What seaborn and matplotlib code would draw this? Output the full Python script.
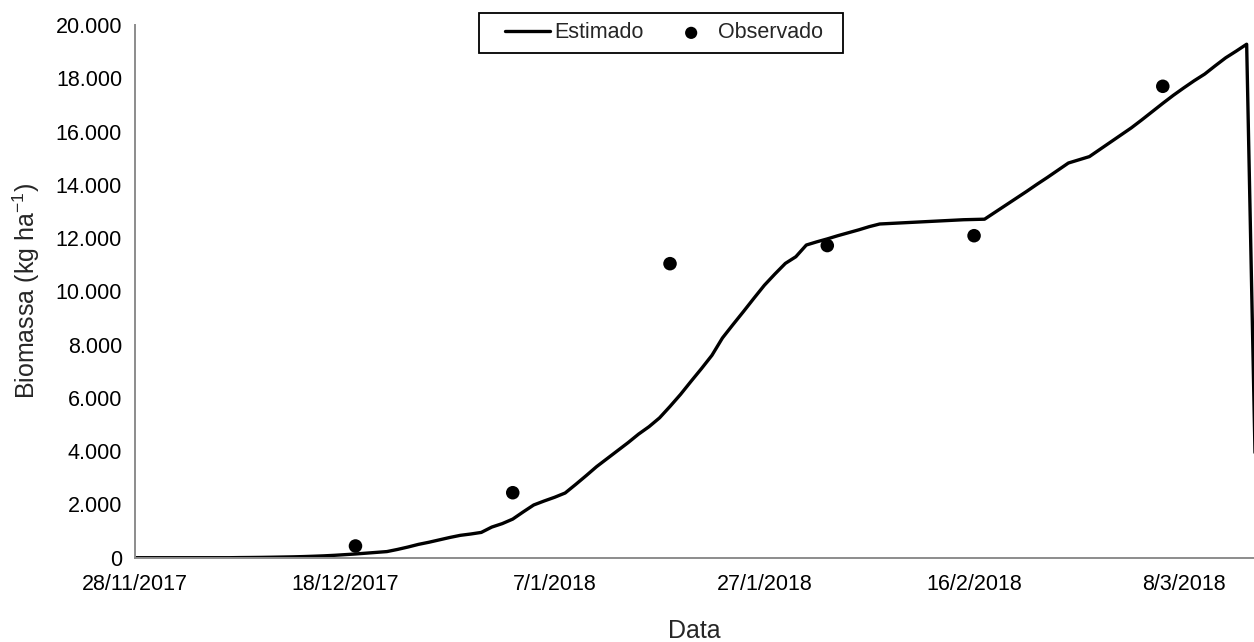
import numpy as np
import pandas as pd
import matplotlib
matplotlib.use("Agg")
import matplotlib.pyplot as plt
import matplotlib.ticker as mticker
import matplotlib.dates as mdates
from matplotlib.patches import Rectangle
import seaborn as sns

# Simulated biomass (daily model output, kg/ha) from 28/11/2017
start_date = "2017-11-28"
estimado = [
    0, 0, 0, 0, 0, 0, 0, 0, 0, 0,
    5, 8, 12, 18, 25, 32, 42, 55, 70, 90,
    115, 140, 170, 200, 230, 310, 400, 500, 580, 670,
    760, 840, 890, 950, 1150, 1280, 1450, 1720, 1980, 2130,
    2270, 2430, 2750, 3080, 3420, 3720, 4020, 4320, 4640, 4920,
    5250, 5680, 6130, 6620, 7100, 7600, 8250, 8750, 9240, 9740,
    10230, 10650, 11050, 11300, 11740, 11860, 11970, 12090, 12200, 12310,
    12430, 12530, 12550, 12570, 12590, 12610, 12630, 12650, 12670, 12690,
    12700, 12710, 12970, 13230, 13490, 13750, 14020, 14280, 14550, 14820,
    14940, 15060, 15330, 15600, 15870, 16140, 16440, 16750, 17060, 17360,
    17640, 17910, 18160, 18470, 18770, 19020, 19280, 0,
]

# Field samplings
obs_dates = ["2017-12-19", "2018-01-03", "2018-01-18", "2018-02-02", "2018-02-16", "2018-03-06"]
observado = [440, 2440, 11040, 11720, 12090, 17700]

tick_dates = ["2017-11-28", "2017-12-18", "2018-01-07", "2018-01-27", "2018-02-16", "2018-03-08"]

est_df = pd.DataFrame({
    "Data": pd.date_range(start_date, periods=len(estimado), freq="D"),
    "Biomassa": estimado,
})
obs_df = pd.DataFrame({"Data": pd.to_datetime(obs_dates), "Biomassa": observado})

sns.set_style("white")
plt.rcParams["font.family"] = ["Liberation Sans", "DejaVu Sans"]
plt.rcParams["mathtext.fontset"] = "custom"
plt.rcParams["mathtext.rm"] = "Liberation Sans"
plt.rcParams["mathtext.it"] = "Liberation Sans:italic"

fig = plt.figure(figsize=(12.54, 6.42), dpi=100)
ax = fig.add_axes([0.1079, 0.1313, 0.8921, 0.8297])

sns.lineplot(data=est_df, x="Data", y="Biomassa", ax=ax, color="black",
             linewidth=2.4, label="Estimado")
sns.scatterplot(data=obs_df, x="Data", y="Biomassa", ax=ax, color="black",
                s=95, edgecolor="none", label="Observado", zorder=3)

x0 = pd.Timestamp(start_date)
ax.set_xlim(mdates.date2num(x0), mdates.date2num(x0) + 106.7)
ax.set_ylim(0, 20000)

ax.set_xticks(mdates.date2num(pd.to_datetime(tick_dates)))
ax.xaxis.set_major_formatter(mticker.FuncFormatter(
    lambda v, p: (lambda d: f"{d.day}/{d.month}/{d.year}")(mdates.num2date(v))))
ax.set_yticks(np.arange(0, 20001, 2000))
ax.yaxis.set_major_formatter(mticker.FuncFormatter(
    lambda v, p: f"{int(v):,}".replace(",", ".")))

for side in ("top", "right"):
    ax.spines[side].set_visible(False)
for side in ("left", "bottom"):
    ax.spines[side].set_color("#8c8c8c")
    ax.spines[side].set_linewidth(1.4)

ax.tick_params(axis="both", which="major", direction="out", length=5,
               width=1.2, color="#8c8c8c", labelsize=15.5, labelcolor="black")
ax.tick_params(axis="x", pad=7)
ax.tick_params(axis="y", pad=4.5)

ax.set_xlabel("Data", fontsize=18, labelpad=17)
ax.set_ylabel("Biomassa (kg ha$^{-1}$)", fontsize=18, labelpad=10)

handles, labels = ax.get_legend_handles_labels()
leg = ax.legend(handles, labels, loc="center", ncol=2, frameon=False,
                bbox_to_anchor=(664 / 1254, 1 - 33 / 642),
                bbox_transform=fig.transFigure, fontsize=15.5,
                handlelength=2.05, handletextpad=0.2, columnspacing=1.2,
                borderpad=0.45, markerscale=0.9)
leg.set_in_layout(False)

# Legend frame, wider than the text block like a spreadsheet legend
fig.canvas.draw()
bb = leg.get_window_extent().transformed(fig.transFigure.inverted())
pad_left = 17 / 1254
pad_right = 11 / 1254
fig.add_artist(Rectangle((bb.x0 - pad_left, bb.y0),
                         bb.width + pad_left + pad_right, bb.height,
                         transform=fig.transFigure, fill=False,
                         edgecolor="black", linewidth=1.3, zorder=5))

fig.savefig("out.png", dpi=100)
